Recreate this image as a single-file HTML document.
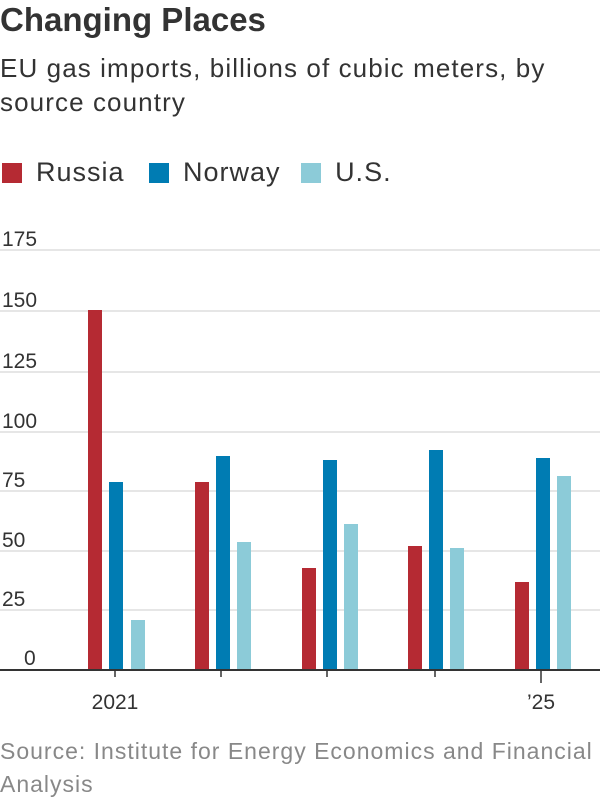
<!DOCTYPE html>
<html><head><meta charset="utf-8"><style>
body{margin:0;width:600px;height:800px;background:#fff;font-family:"Liberation Sans",sans-serif;overflow:hidden;position:relative;color:#333}
.t{position:absolute;white-space:nowrap}
</style></head><body>
<div class="t" style="left:0;top:1px;font-size:33px;font-weight:bold;color:#333">Changing Places</div>
<div class="t" style="left:0;top:51px;font-size:26px;letter-spacing:1.1px;line-height:34px;color:#333">EU gas imports, billions of cubic meters, by<br>source country</div>
<div class="t" style="left:2px;top:157px;font-size:27px;letter-spacing:1px;color:#333">
<span style="display:inline-block;width:20px;height:20px;background:#b52a33;vertical-align:-2px;margin-right:14px"></span>Russia
<span style="display:inline-block;width:20px;height:20px;background:#007cb3;vertical-align:-2px;margin:0 14px 0 16px"></span>Norway
<span style="display:inline-block;width:20px;height:20px;background:#8ccbd8;vertical-align:-2px;margin:0 14px 0 12px"></span>U.S.
</div>
<svg width="600" height="800" style="position:absolute;left:0;top:0">
<g stroke="#ddd" stroke-width="1.5">
<line x1="0" x2="600" y1="250" y2="250"/><line x1="0" x2="600" y1="311" y2="311"/><line x1="0" x2="600" y1="372" y2="372"/><line x1="0" x2="600" y1="432" y2="432"/><line x1="0" x2="600" y1="491" y2="491"/><line x1="0" x2="600" y1="551" y2="551"/><line x1="0" x2="600" y1="610" y2="610"/>
</g>
<g font-size="21" fill="#333" font-family="Liberation Sans">
<text x="2" y="246">175</text><text x="2" y="307">150</text><text x="2" y="368">125</text><text x="2" y="428">100</text><text x="2" y="487">75</text><text x="2" y="547">50</text><text x="2" y="606">25</text><text x="24" y="665">0</text>
</g>
<g>
<rect x="88" y="310" width="14" height="360" fill="#b52a33"/><rect x="109" y="482" width="14" height="188" fill="#007cb3"/><rect x="131" y="620" width="14" height="50" fill="#8ccbd8"/>
<rect x="195" y="482" width="14" height="188" fill="#b52a33"/><rect x="216" y="456" width="14" height="214" fill="#007cb3"/><rect x="237" y="542" width="14" height="128" fill="#8ccbd8"/>
<rect x="302" y="568" width="14" height="102" fill="#b52a33"/><rect x="323" y="460" width="14" height="210" fill="#007cb3"/><rect x="344" y="524" width="14" height="146" fill="#8ccbd8"/>
<rect x="408" y="546" width="14" height="124" fill="#b52a33"/><rect x="429" y="450" width="14" height="220" fill="#007cb3"/><rect x="450" y="548" width="14" height="122" fill="#8ccbd8"/>
<rect x="515" y="582" width="14" height="88" fill="#b52a33"/><rect x="536" y="458" width="14" height="212" fill="#007cb3"/><rect x="557" y="476" width="14" height="194" fill="#8ccbd8"/>
</g>
<line x1="0" x2="600" y1="670" y2="670" stroke="#333" stroke-width="2"/>
<g stroke="#333" stroke-width="1.5">
<line x1="115" x2="115" y1="670" y2="677"/><line x1="221" x2="221" y1="670" y2="677"/><line x1="327" x2="327" y1="670" y2="677"/><line x1="435" x2="435" y1="670" y2="677"/><line x1="541" x2="541" y1="670" y2="683"/>
</g>
<g font-size="21" fill="#333" font-family="Liberation Sans" text-anchor="middle">
<text x="115" y="709">2021</text><text x="541" y="709">’25</text>
</g>
</svg>
<div class="t" style="left:0;top:735px;font-size:23px;letter-spacing:1px;line-height:33px;color:#888">Source: Institute for Energy Economics and Financial<br>Analysis</div>
</body></html>
